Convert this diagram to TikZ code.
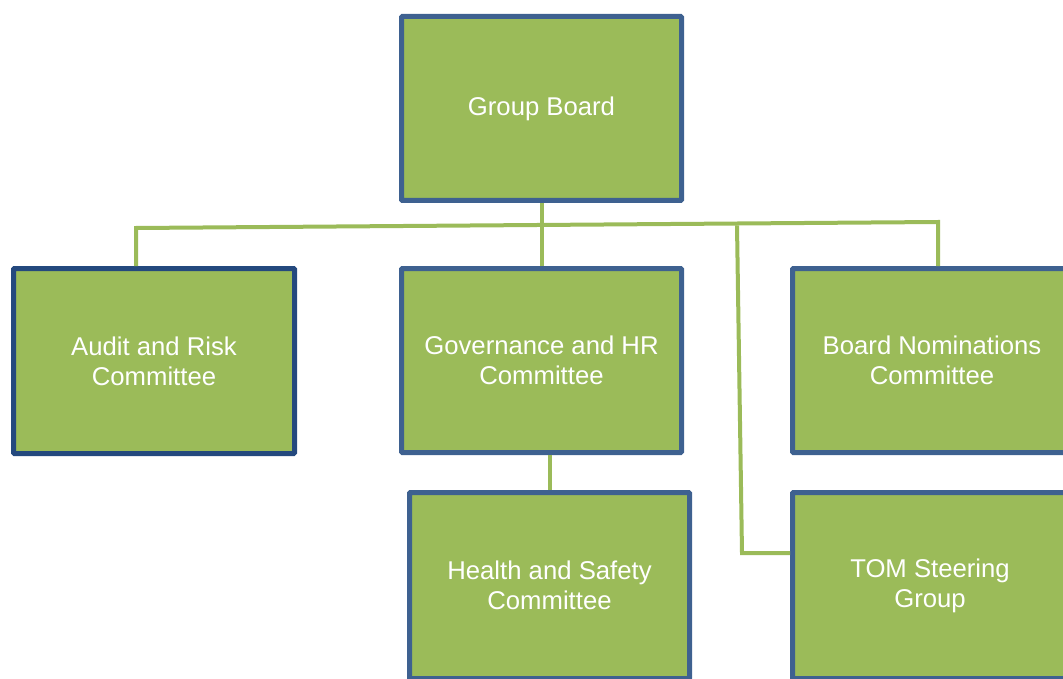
\documentclass[tikz,border=0pt]{standalone}
\usepackage{fontspec}
\setmainfont{Liberation Sans}
\definecolor{boxgreen}{HTML}{9BBB59}
\definecolor{boxblue}{HTML}{3E6190}
\definecolor{boxnavy}{HTML}{24497E}
\begin{document}
\begin{tikzpicture}[x=1pt,y=-1pt,
  unit/.style={draw=boxblue,fill=boxgreen,line width=5pt,inner sep=0pt,
    rounded corners=1pt,text=white,align=center,
    font=\fontsize{25.7}{30}\selectfont},
  link/.style={draw=boxgreen,line width=4pt}]
\useasboundingbox (0,0) rectangle (1063,679);
\clip (0,0) rectangle (1063,679);

% committee boxes (size given as the line-centre rectangle)
\node[unit,minimum width=280,minimum height=184] (GB) at (541.5,108.5) {Group Board};
\node[unit,draw=boxnavy,minimum width=281,minimum height=185] (AR) at (154,361) {Audit and Risk\\Committee};
\node[unit,minimum width=280,minimum height=184] (GOV) at (541.5,360.5) {Governance and HR\\Committee};
\node[unit,minimum width=279,minimum height=184] (BN) at (932,360.5) {Board Nominations\\Committee};
\node[unit,minimum width=280,minimum height=186] (HS) at (549.5,585.5) {Health and Safety\\Committee};
\node[unit,minimum width=275,minimum height=186] (TOM) at (930,585.5) {TOM Steering\\Group};

% horizontal bus below the board
\coordinate (busL) at (136,228);
\coordinate (busR) at (938,222);
\coordinate (busT) at (737,225.3);
\coordinate (tomBend) at (742,553);

\draw[link] (GB.south) -- (GOV.north);
\draw[link] (AR.north -| busL) -- (busL) -- (busR) -- (BN.north -| busR);
\draw[link] (busT) -- (tomBend) -- (tomBend -| TOM.west);
\draw[link] (HS.north) -- (HS.north |- GOV.south);
\end{tikzpicture}
\end{document}
